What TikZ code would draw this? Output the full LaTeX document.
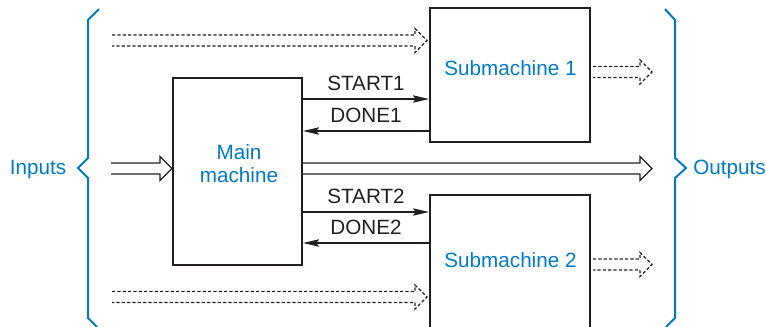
\documentclass[tikz,border=0pt]{standalone}
\usepackage{fontspec}
\setmainfont{Liberation Sans}
\usetikzlibrary{arrows.meta,calc}
\definecolor{figblue}{RGB}{0,122,195}
\definecolor{figink}{RGB}{35,31,32}

% outlined double arrow: \fatarrow[style]{from}{tip}
\newcommand{\fatarrow}[3][]{%
  \draw[fat,#1] ($(#2)+(0,-5.5)$) -- ($(#3)+(-12,-5.5)$) -- ++(0,-6.5)
    -- (#3) -- ($(#3)+(-12,12)$) -- ++(0,-6.5) -- ($(#2)+(0,5.5)$);}

\begin{document}
\begin{tikzpicture}[
    x=0.75pt, y=-0.75pt, % one unit = one pixel of the layout, y down
    font=\fontsize{15.5}{17.3}\selectfont,
    box/.style    = {rectangle, draw=figink, line width=1.5pt, inner sep=0pt},
    subbox/.style = {box, minimum width=120pt, minimum height=100.5pt},
    lab/.style    = {inner sep=0pt, text=figink},
    bluetxt/.style= {inner sep=0pt, text=figblue, align=center},
    % signal arrows
    sig/.style    = {-{Stealth[length=12pt, width=5.5pt, inset=2pt]}, draw=figink, line width=1pt},
    fat/.style    = {draw=figink, line width=1pt, line join=miter},
    fatdot/.style = {dash pattern=on 2.4pt off 1.6pt},
    brace/.style  = {draw=figblue, line width=1.5pt, line join=miter}
  ]
  \clip (0,0) rectangle (766,326);

  % ===== Machines =====
  \node[box, minimum width=96.75pt, minimum height=140.25pt] (main) at (237.5,171.5) {};
  \node[subbox] (sub1) at (510,75) {};
  \node[subbox] (sub2) at (510,262) {};

  \node[bluetxt] (maintxt) at (239,164) {Main\\machine};
  \node[bluetxt] (sub1txt) at (510.5,68) {Submachine 1};
  \node[bluetxt] (sub2txt) at (510.5,260.5) {Submachine 2};

  % ===== Handshake signals =====
  \coordinate (rowS1) at (0,99);
  \coordinate (rowD1) at (0,131);
  \coordinate (rowS2) at (0,212);
  \coordinate (rowD2) at (0,243);
  \draw[sig] (main.east |- rowS1) -- (sub1.west |- rowS1) node[lab, midway, above=5.5pt] (s1lab) {START1};
  \draw[sig] (sub1.west |- rowD1) -- (main.east |- rowD1) node[lab, midway, above=5.5pt] (d1lab) {DONE1};
  \draw[sig] (main.east |- rowS2) -- (sub2.west |- rowS2) node[lab, midway, above=5.5pt] (s2lab) {START2};
  \draw[sig] (sub2.west |- rowD2) -- (main.east |- rowD2) node[lab, midway, above=5.5pt] (d2lab) {DONE2};

  % ===== Buses =====
  \coordinate (hub) at (0,168.5);
  \coordinate (inL)  at (111,168.5);
  \coordinate (outR) at (652,168.5);
  \coordinate (mIn)  at (main.west |- hub);
  \coordinate (mOut) at (main.east |- hub);
  \fatarrow{inL}{mIn}
  \fatarrow{mOut}{outR}

  \coordinate (in1) at (112,40.5);
  \coordinate (in2) at (112,297);
  \coordinate (tip1) at ($(sub1.west |- in1)+(-2,0)$);
  \coordinate (tip2) at ($(sub2.west |- in2)+(-2,0)$);
  \fatarrow[fatdot]{in1}{tip1}
  \fatarrow[fatdot]{in2}{tip2}

  \coordinate (out1) at (652,72);
  \coordinate (out2) at (652,264.5);
  \coordinate (src1) at ($(sub1.east |- out1)+(2,0)$);
  \coordinate (src2) at ($(sub2.east |- out2)+(2,0)$);
  \fatarrow[fatdot]{src1}{out1}
  \fatarrow[fatdot]{src2}{out2}

  % ===== Braces =====
  \draw[brace] (99,9) -- (88,20) -- (88,158) -- (78,168) -- (88,178) -- (88,318) -- (97,327);
  \draw[brace] (665,9) -- (675,20) -- (675,158) -- (686,168) -- (675,178) -- (675,318) -- (666,327);
  \node[bluetxt, anchor=base] (inlab) at (38,174) {Inputs};
  \node[bluetxt, anchor=base west] (outlab) at (693,174) {Outputs};
\end{tikzpicture}
\end{document}
